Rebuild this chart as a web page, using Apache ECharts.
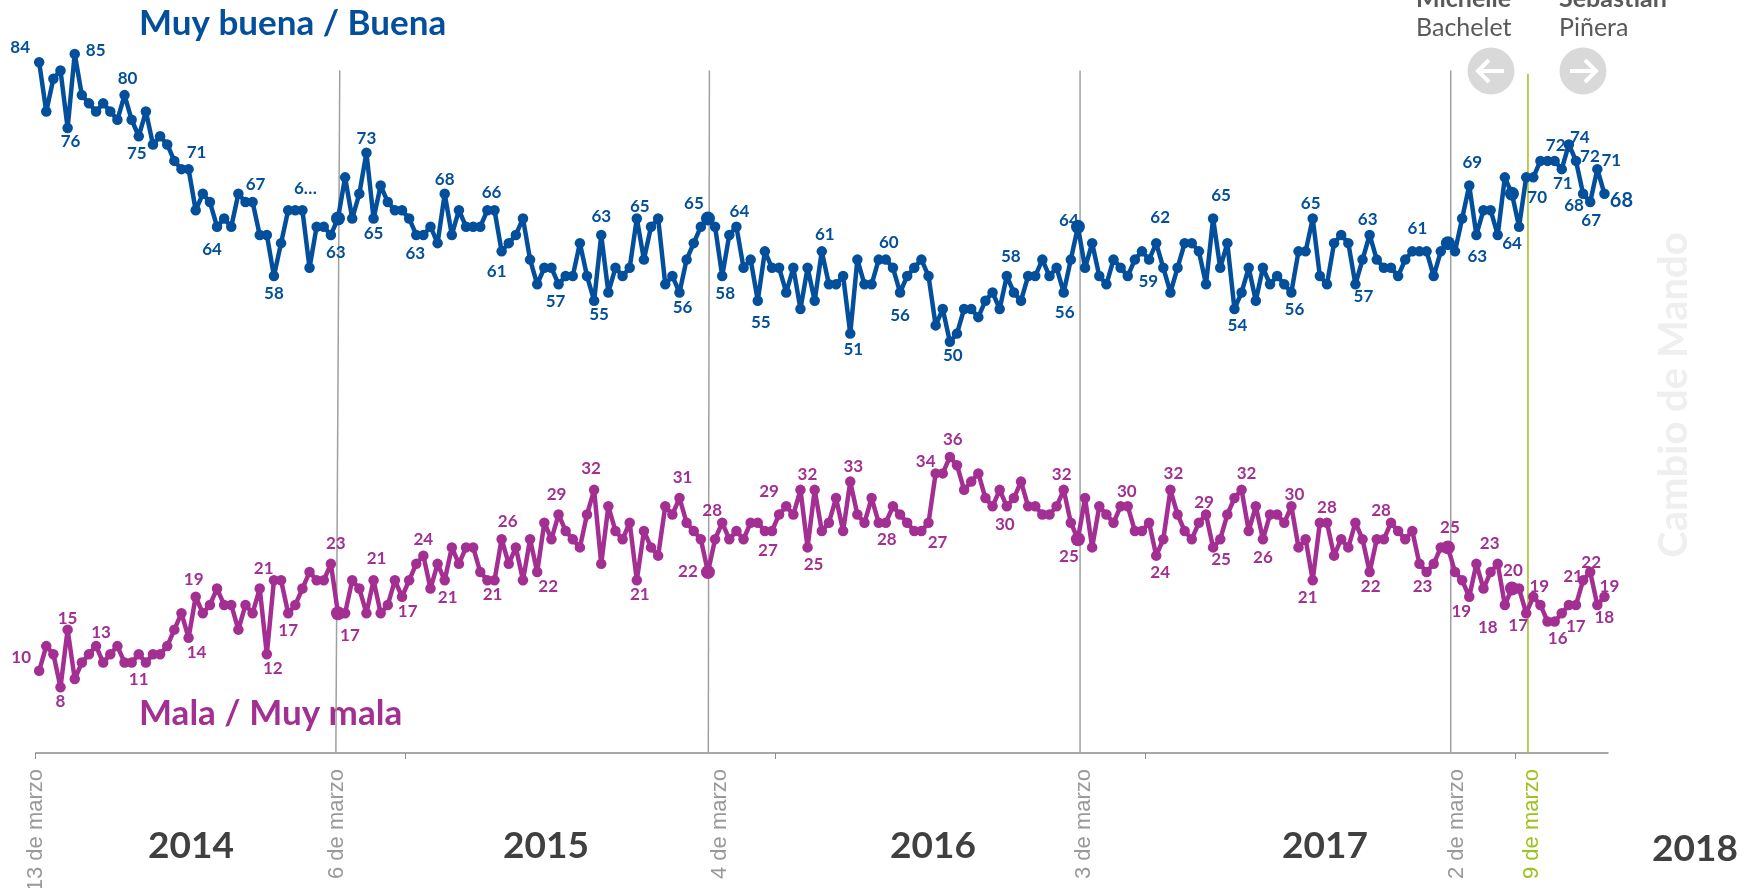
<!DOCTYPE html>
<html>
<head>
<meta charset="utf-8">
<title>Evaluación de gobierno</title>
<style>
html, body { margin: 0; padding: 0; background: #fff; }
#chart { width: 1758px; height: 888px; }
</style>
<script src="https://cdn.jsdelivr.net/npm/echarts@6/dist/echarts.min.js"></script>
</head>
<body>
<div id="chart"></div>
<script>
const valuesBuena = [
    84, 78, 82, 83, 76, 85, 80, 79, 78, 79, 78, 77, 80, 77, 75, 78, 74, 75, 74, 72,
    71, 71, 66, 68, 67, 64, 65, 64, 68, 67, 67, 63, 63, 58, 62, 66, 66, 66, 59, 64,
    64, 63, 65, 70, 65, 68, 73, 65, 69, 67, 66, 66, 65, 63, 63, 64, 62, 68, 63, 66,
    64, 64, 64, 66, 66, 61, 62, 63, 65, 60, 57, 59, 59, 57, 58, 58, 62, 58, 55, 63,
    56, 59, 58, 59, 65, 60, 64, 65, 57, 58, 56, 60, 62, 64, 65, 64, 58, 63, 64, 59,
    60, 55, 61, 59, 59, 56, 59, 54, 59, 55, 61, 57, 57, 58, 51, 60, 57, 57, 60, 60,
    59, 56, 58, 59, 60, 58, 52, 54, 50, 51, 54, 54, 53, 55, 56, 54, 58, 56, 55, 58,
    58, 60, 58, 59, 56, 60, 64, 59, 62, 58, 57, 60, 59, 58, 60, 61, 60, 62, 59, 56,
    59, 62, 62, 61, 57, 65, 59, 62, 54, 56, 59, 55, 59, 57, 58, 57, 56, 61, 61, 65,
    58, 57, 62, 63, 62, 57, 60, 63, 60, 59, 59, 58, 60, 61, 61, 61, 58, 61, 62, 61,
    65, 69, 63, 66, 66, 63, 70, 68, 64, 70, 70, 72, 72, 72, 71, 74, 72, 68, 67, 71,
    68
];
const valuesMala = [
    10, 13, 12, 8, 15, 9, 11, 12, 13, 11, 12, 13, 11, 11, 12, 11, 12, 12, 13, 15,
    17, 14, 19, 17, 18, 20, 18, 18, 15, 18, 17, 20, 12, 21, 21, 17, 18, 20, 22, 21,
    21, 23, 17, 17, 21, 20, 17, 21, 17, 18, 21, 19, 21, 23, 24, 20, 23, 21, 25, 23,
    25, 25, 22, 21, 21, 26, 23, 25, 21, 26, 22, 28, 26, 29, 27, 26, 25, 29, 32, 23,
    30, 27, 26, 28, 21, 27, 25, 24, 30, 29, 31, 28, 27, 26, 22, 26, 28, 26, 27, 26,
    28, 28, 27, 27, 29, 30, 29, 32, 25, 32, 27, 28, 31, 27, 33, 29, 28, 31, 28, 28,
    30, 29, 28, 27, 27, 28, 34, 34, 36, 35, 32, 33, 34, 31, 30, 32, 30, 31, 33, 30,
    30, 29, 29, 30, 32, 28, 26, 31, 25, 30, 29, 28, 30, 30, 27, 27, 28, 24, 26, 32,
    29, 27, 26, 28, 29, 25, 26, 29, 31, 32, 27, 30, 26, 29, 29, 28, 30, 25, 26, 21,
    28, 28, 24, 26, 25, 28, 26, 22, 26, 26, 28, 27, 26, 27, 23, 22, 23, 25, 25, 22,
    21, 19, 23, 20, 22, 23, 18, 20, 20, 17, 19, 18, 16, 16, 17, 18, 18, 21, 22, 18,
    19
];
const weeks = valuesBuena.map((v, i) => String(i));

// puntos con etiqueta: indice y texto
const labelIdxBuena = [0, 4, 5, 12, 14, 21, 25, 30, 33, 37, 41, 46, 47, 53, 57, 64, 65, 73, 78, 79, 84, 90, 94, 96, 98, 101, 110, 114, 119, 121, 128, 136, 144, 146, 157, 158, 165, 168, 176, 179, 185, 187, 194, 201, 202, 208, 209, 213, 214, 215, 216, 217, 218, 219, 220];
const labelTextBuena = ['84', '76', '85', '80', '75', '71', '64', '67', '58', '6…', '63', '73', '65', '63', '68', '66', '61', '57', '55', '63', '65', '56', '65', '58', '64', '55', '61', '51', '60', '56', '50', '58', '56', '64', '62', '59', '65', '54', '56', '65', '57', '63', '61', '69', '63', '64', '70', '72', '71', '74', '72', '68', '67', '71', '68'];
const labelIdxMala = [0, 3, 4, 8, 13, 21, 22, 31, 32, 35, 41, 42, 47, 48, 54, 57, 64, 65, 70, 73, 78, 84, 90, 94, 96, 102, 104, 107, 108, 114, 119, 125, 126, 128, 136, 144, 146, 153, 157, 159, 164, 165, 169, 172, 176, 179, 181, 187, 190, 195, 198, 201, 205, 206, 207, 209, 210, 213, 214, 217, 218, 219, 220];
const labelTextMala = ['10', '8', '15', '13', '11', '14', '19', '21', '12', '17', '23', '17', '21', '17', '24', '21', '21', '26', '22', '29', '32', '21', '31', '22', '28', '27', '29', '32', '25', '33', '28', '27', '34', '36', '30', '32', '25', '30', '24', '32', '29', '25', '32', '26', '30', '21', '28', '22', '28', '23', '25', '19', '23', '18', '20', '17', '19', '16', '17', '21', '22', '18', '19'];

// desplazamiento de cada etiqueta respecto a su punto
const labelOffsetBuena = [[-19, -15], [3, 14], [21, -3], [3, -17], [-2, 17], [8, -17], [-5, 23], [3, -18], [0, 17], [3, -22], [5, 18], [0, -14], [0, 15], [-1, 19], [0, -14], [-3, -18], [-5, 20], [-3, 17], [5, 14], [0, -18], [3, -12], [3, 15], [-14, -15], [3, 17], [3, -15], [3, 22], [3, -17], [3, 16], [3, -17], [0, 23], [3, 14], [4, -20], [1, 20], [-9, -6], [4, -26], [-15, 14], [8, -23], [3, 17], [3, 17], [-2, -15], [8, 12], [-2, -15], [-2, -23], [3, -23], [1, 22], [-7, 17], [11, 20], [1, -15], [1, 14], [11, -7], [14, -4], [-9, 12], [1, 18], [14, -9], [17, 7]];
const labelOffsetMala = [[-18, -13], [0, 14], [0, -11], [5, -14], [7, 17], [8, 15], [-2, -17], [4, -20], [6, 14], [0, 17], [5, -20], [12, 22], [3, -22], [27, -2], [0, -16], [3, 17], [-2, 14], [6, -18], [11, 14], [-2, -20], [-3, -21], [3, 14], [3, -21], [-20, -1], [-10, -12], [3, 20], [-10, -23], [7, -15], [6, 17], [3, -15], [1, 17], [9, 20], [-10, -12], [3, -17], [-2, 18], [-2, -15], [-9, 17], [-1, -15], [4, 17], [3, -16], [-2, -12], [8, 12], [5, -16], [0, 18], [3, -12], [-5, 17], [0, -15], [1, 14], [-10, -12], [-4, 14], [2, -20], [-8, 15], [-8, -20], [-17, 23], [1, -18], [-8, 12], [6, -10], [3, 17], [14, 13], [-10, -4], [1, -10], [7, 13], [5, -10]];

// puntos mas gruesos (cambios de año / mando)
const bigPoints = [42, 94, 146, 198, 207];

// eje inferior, en unidades de semana
const yearTicks = [0, 52, 104, 156, 208];
const dateLabels = ['13 de marzo', '6 de marzo', '4 de marzo', '3 de marzo', '2 de marzo', '9 de marzo'];
const dateLabelPos = [0, 42.4, 96.2, 147.4, 199.7, 210.3];
const lineBottom = [42.2, 94.55, 146.8, 198.9];
const lineTop = [42.75, 94.7, 146.8, 198.9];
const mandoLine = 209.75;

const years = ['2014', '2015', '2016', '2017', '2018'];
const yearX = [191, 546, 933, 1325, 1695];
const yearY = [846, 846, 846, 846, 849];

const BLUE = '#034f9b';
const PURPLE = '#a22f91';
const GREEN = '#9bc31c';
const GRAY = '#a0a0a0';
const FONT = 'Lato, "Noto Sans", sans-serif';

function buildData(values, idx, text, offset, color) {
    return values.map((v, i) => {
        let item = { value: v };
        if (bigPoints.indexOf(i) >= 0) {
            item.symbolSize = 14;
        }
        let k = idx.indexOf(i);
        if (k >= 0) {
            item.label = {
                show: true,
                position: 'inside',
                offset: offset[k],
                formatter: text[k],
                color: color,
                fontFamily: FONT,
                fontWeight: 'bold',
                fontSize: i === 220 && color === BLUE ? 20 : 17,
            };
        }
        return item;
    });
}

function mainSeries(name, data, color) {
    return {
        name: name,
        type: 'line',
        xAxisIndex: 0,
        data: data,
        symbol: 'circle',
        symbolSize: 10.5,
        showSymbol: true,
        showAllSymbol: true,
        clip: false,
        z: 5,
        lineStyle: { color: color, width: 4.5 },
        itemStyle: { color: color },
    };
}

function ruleSeries(bottom, top, height, color, width) {
    return {
        type: 'line',
        xAxisIndex: 1,
        data: [[bottom, 0], [top, height]],
        showSymbol: false,
        silent: true,
        clip: false,
        z: 3,
        lineStyle: { color: color, width: width },
    };
}

function yearText(t, i) {
    return {
        type: 'text',
        x: yearX[i],
        y: yearY[i],
        z: 1,
        style: { text: t, fill: '#404040', font: 'bold 37px ' + FONT, align: 'center', verticalAlign: 'middle' },
    };
}

function arrow(cx, dir) {
    return [
        { type: 'circle', shape: { cx: cx, cy: 71, r: 23.5 }, style: { fill: '#d9d9d9' }, z: 1 },
        { type: 'polyline', shape: { points: [[cx - 13 * dir, 71], [cx + 12 * dir, 71]] }, style: { stroke: '#fff', lineWidth: 4, fill: null }, z: 2 },
        { type: 'polyline', shape: { points: [[cx + 2 * dir, 60], [cx + 13 * dir, 71], [cx + 2 * dir, 82]] }, style: { stroke: '#fff', lineWidth: 4, fill: null }, z: 2 },
    ];
}

let option = {
    animation: false,
    backgroundColor: '#fff',
    grid: { left: 35.6, right: 150, top: 54, bottom: 135, outerBoundsMode: 'none' },
    xAxis: [
        {
            type: 'category',
            data: weeks,
            boundaryGap: true,
            show: false,
        },
        {
            type: 'value',
            min: 0,
            max: weeks.length,
            position: 'bottom',
            splitLine: { show: false },
            axisLine: { show: true, lineStyle: { color: '#8c8c8c', width: 1.5 } },
            axisTick: { show: true, length: 6, customValues: yearTicks, lineStyle: { color: '#8c8c8c', width: 1 } },
            axisLabel: {
                show: true,
                customValues: dateLabelPos,
                rotate: 90,
                margin: 16,
                fontFamily: '"Liberation Sans", sans-serif',
                fontSize: 22,
                formatter: (val) => dateLabels[dateLabelPos.indexOf(Number(val))],
                color: (val) => (Number(val) === 210.3 ? GREEN : '#999999'),
            },
        },
    ],
    yAxis: { type: 'value', min: 0, max: 85, show: false },
    series: [
        ...lineBottom.map((b, i) => ruleSeries(b, lineTop[i], 83, GRAY, 1.5)),
        ruleSeries(mandoLine, mandoLine, 82.6, GREEN, 1.5),
        mainSeries('Muy buena / Buena', buildData(valuesBuena, labelIdxBuena, labelTextBuena, labelOffsetBuena, BLUE), BLUE),
        mainSeries('Mala / Muy mala', buildData(valuesMala, labelIdxMala, labelTextMala, labelOffsetMala, PURPLE), PURPLE),
    ],
    graphic: [
        { type: 'text', x: 139, y: 24, z: 1, style: { text: 'Muy buena / Buena', fill: BLUE, font: 'bold 35px ' + FONT, verticalAlign: 'middle' } },
        { type: 'text', x: 139, y: 714, z: 1, style: { text: 'Mala / Muy mala', fill: PURPLE, font: 'bold 35px ' + FONT, verticalAlign: 'middle' } },
        { type: 'text', x: 1416, y: -1, z: 1, style: { text: 'Michelle', fill: '#595959', font: 'bold 25px ' + FONT, verticalAlign: 'middle' } },
        { type: 'text', x: 1416, y: 28, z: 1, style: { text: 'Bachelet', fill: '#595959', font: '25px ' + FONT, verticalAlign: 'middle' } },
        { type: 'text', x: 1559, y: -1, z: 1, style: { text: 'Sebastián', fill: '#595959', font: 'bold 25px ' + FONT, verticalAlign: 'middle' } },
        { type: 'text', x: 1559, y: 28, z: 1, style: { text: 'Piñera', fill: '#595959', font: '25px ' + FONT, verticalAlign: 'middle' } },
        ...arrow(1491, -1),
        ...arrow(1583, 1),
        {
            type: 'text',
            x: 1674,
            y: 395,
            rotation: Math.PI / 2,
            z: 1,
            style: { text: 'Cambio de Mando', fill: '#efefef', font: 'bold 40px ' + FONT, align: 'center', verticalAlign: 'middle' },
        },
        ...years.map(yearText),
    ],
};

let chart = echarts.init(document.getElementById('chart'));
chart.setOption(option);
</script>
</body>
</html>
